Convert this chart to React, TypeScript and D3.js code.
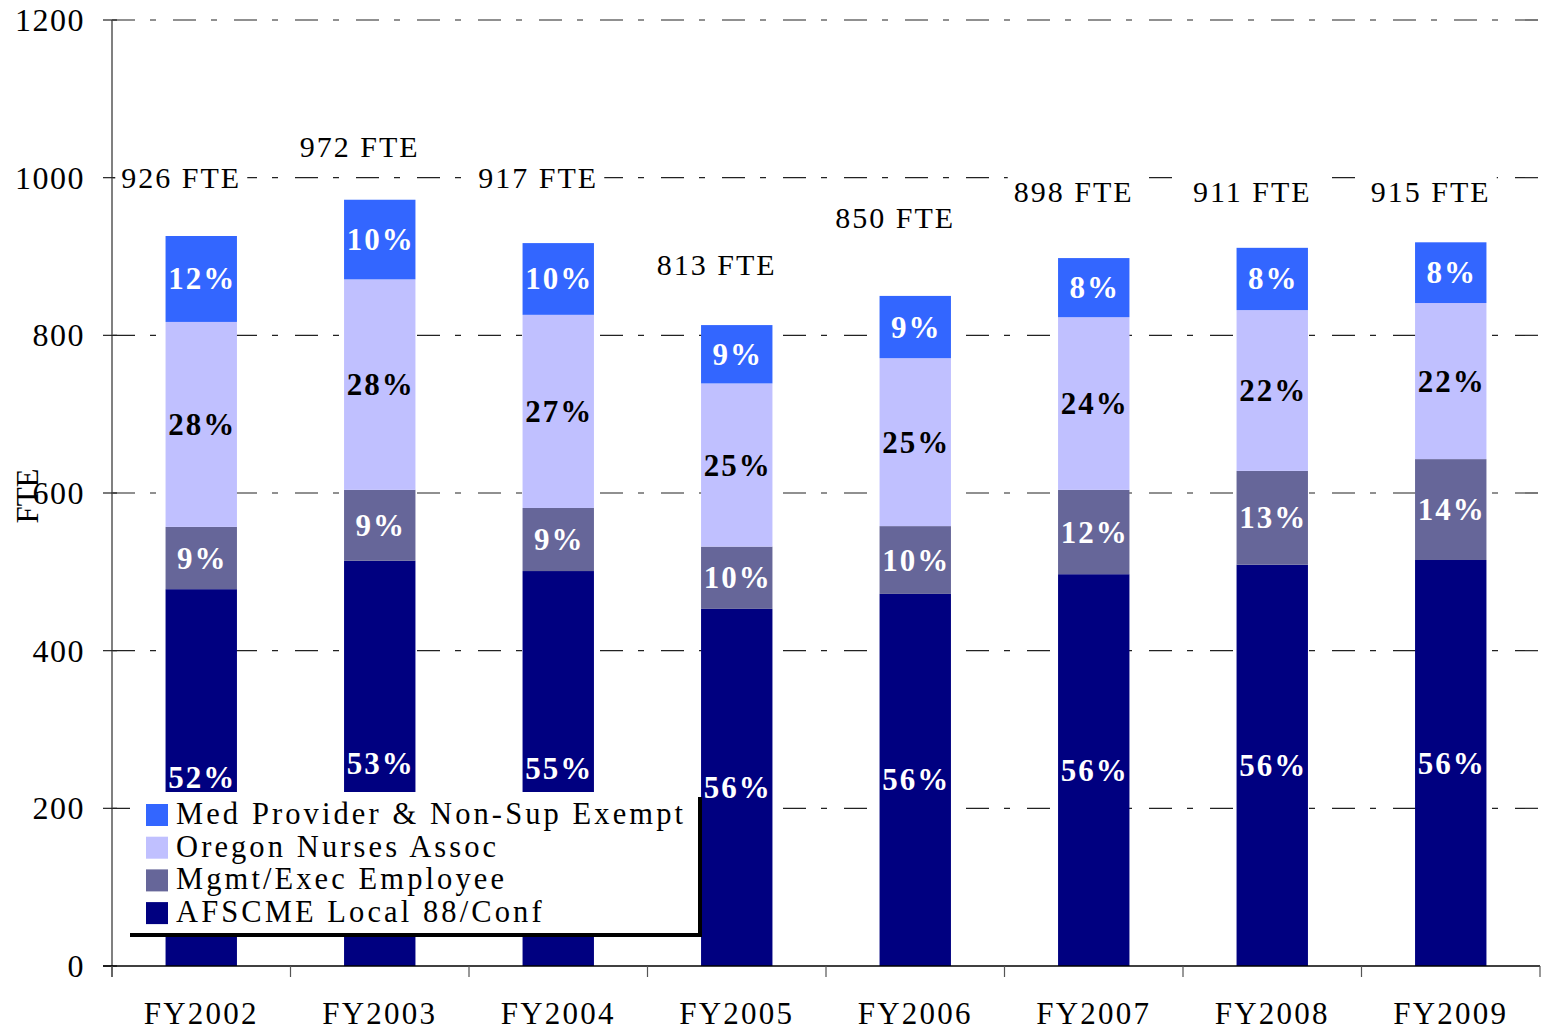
import React from 'react';
import * as d3 from 'd3';

// fiscal years on the x axis
const years = ['FY2002', 'FY2003', 'FY2004', 'FY2005', 'FY2006', 'FY2007', 'FY2008', 'FY2009'];

// FTE per bargaining group, bottom to top
const afscme = [478, 514, 501, 453, 472, 497, 509, 515];
const mgmt = [79, 90, 80, 79, 86, 107, 119, 128];
const ona = [260, 267, 245, 207, 213, 219, 204, 198];
const medProv = [109, 101, 91, 74, 79, 75, 79, 77];

// percent labels as printed on the slide
const afscmePct = ['52%', '53%', '55%', '56%', '56%', '56%', '56%', '56%'];
const mgmtPct = ['9%', '9%', '9%', '10%', '10%', '12%', '13%', '14%'];
const onaPct = ['28%', '28%', '27%', '25%', '25%', '24%', '22%', '22%'];
const medPct = ['12%', '10%', '10%', '9%', '9%', '8%', '8%', '8%'];

// total FTE call-outs and the level (in FTE) where each one sits
const totals = [926, 972, 917, 813, 850, 898, 911, 915];
const totalLabelAt = [1000, 1040, 1000, 890, 950, 982, 982, 982];

const yTicks = [0, 200, 400, 600, 800, 1000, 1200];

const seriesNames = ['Med Provider & Non-Sup Exempt', 'Oregon Nurses Assoc', 'Mgmt/Exec Employee', 'AFSCME Local 88/Conf'];

const W = 1542;
const H = 1031;
const FONT = '"Liberation Serif", "Times New Roman", serif';

export default function App() {
  const x = d3.scaleBand<string>().domain(years).range([112, 1540]).paddingInner(0.6).paddingOuter(0.3);
  const xb = d3.scaleBand<string>().domain(years).range([112, 1540]);
  const y = d3.scaleLinear().domain([0, 1200]).range([966, 20]);

  const keys = ['afscme', 'mgmt', 'ona', 'med'];
  const table = years.map((yr, i) => ({
    year: yr,
    afscme: afscme[i],
    mgmt: mgmt[i],
    ona: ona[i],
    med: medProv[i],
  }));
  const stacked = d3.stack<any>().keys(keys)(table);
  const colors: Record<string, string> = {
    afscme: '#000080',
    mgmt: '#666699',
    ona: '#C0C0FF',
    med: '#3366FF',
  };
  const pcts: Record<string, string[]> = { afscme: afscmePct, mgmt: mgmtPct, ona: onaPct, med: medPct };
  const legendColors = [colors.med, colors.ona, colors.mgmt, colors.afscme];

  return (
    <svg width={W} height={H} style={{ position: 'absolute', left: 0, top: 0, background: '#fff' }}>
      <rect width={W} height={H} fill="#fff" />
      {/* gridlines */}
      {yTicks.filter((t) => t > 0).map((t) => (
        <line key={t} x1={112} x2={1540} y1={y(t)} y2={y(t)} stroke="#222" strokeWidth={1.2} strokeDasharray="23,15,6,17" />
      ))}
      {/* bars */}
      {stacked.map((s) => (
        <g key={s.key} fill={colors[s.key]}>
          {s.map((d, i) => (
            <rect key={i} x={x(years[i])} width={x.bandwidth()} y={y(d[1])} height={y(d[0]) - y(d[1])} />
          ))}
        </g>
      ))}
      {/* segment percentages */}
      {stacked.map((s) => (
        <g key={s.key + 't'} fontFamily={FONT} fontWeight="bold" fontSize={31} letterSpacing={2} textAnchor="middle" fill={s.key === 'ona' ? '#000' : '#fff'}>
          {s.map((d, i) => (
            <text key={i} x={(x(years[i]) as number) + x.bandwidth() / 2 + 1} y={(y(d[0]) + y(d[1])) / 2} dominantBaseline="central">
              {pcts[s.key][i]}
            </text>
          ))}
        </g>
      ))}
      {/* axes */}
      <line x1={112} x2={112} y1={20} y2={977} stroke="#808080" strokeWidth={2} />
      {yTicks.map((t) => (
        <g key={t}>
          <line x1={103} x2={117} y1={y(t)} y2={y(t)} stroke="#222" strokeWidth={1.2} />
          <text x={85} y={y(t)} dominantBaseline="central" textAnchor="end" fontFamily={FONT} fontSize={32} letterSpacing={1.5}>
            {t}
          </text>
        </g>
      ))}
      <line x1={103} x2={1540} y1={966} y2={966} stroke="#000" strokeWidth={1.5} />
      {[...years.map((yr) => xb(yr) as number), 1540].map((bx, i) => (
        <line key={i} x1={bx} x2={bx} y1={966} y2={977} stroke="#555" strokeWidth={1.2} />
      ))}
      {years.map((yr) => (
        <text key={yr} x={(xb(yr) as number) + xb.bandwidth() / 2} y={1024} textAnchor="middle" fontFamily={FONT} fontSize={31} letterSpacing={2.2}>
          {yr}
        </text>
      ))}
      <text transform={`translate(27,496) rotate(-90)`} textAnchor="middle" dominantBaseline="central" fontFamily={FONT} fontSize={31}>
        FTE
      </text>
      {/* total FTE call-outs */}
      {years.map((yr, i) => {
        const cx = (x(yr) as number) + x.bandwidth() / 2 - 20;
        const cy = y(totalLabelAt[i]);
        return (
          <g key={yr + 'tot'}>
            <rect x={cx - 66} y={cy - 22} width={132} height={44} fill="#fff" />
            <text x={cx} y={cy} textAnchor="middle" dominantBaseline="central" fontFamily={FONT} fontSize={30} letterSpacing={2}>
              {totals[i] + ' FTE'}
            </text>
          </g>
        );
      })}
      {/* legend */}
      <g>
        <rect x={130} y={792} width={570} height={142} fill="#fff" />
        <line x1={130} x2={702} y1={935} y2={935} stroke="#000" strokeWidth={4} />
        <line x1={700} x2={700} y1={797} y2={937} stroke="#000" strokeWidth={4} />
        {seriesNames.map((nm, i) => (
          <g key={nm} transform={`translate(146,${815 + i * 32.7})`}>
            <rect x={0} y={-11} width={22} height={22} fill={legendColors[i]} />
            <text x={30} y={-1} dominantBaseline="central" fontFamily={FONT} fontSize={30.5} letterSpacing={3.1}>
              {nm}
            </text>
          </g>
        ))}
      </g>
    </svg>
  );
}
